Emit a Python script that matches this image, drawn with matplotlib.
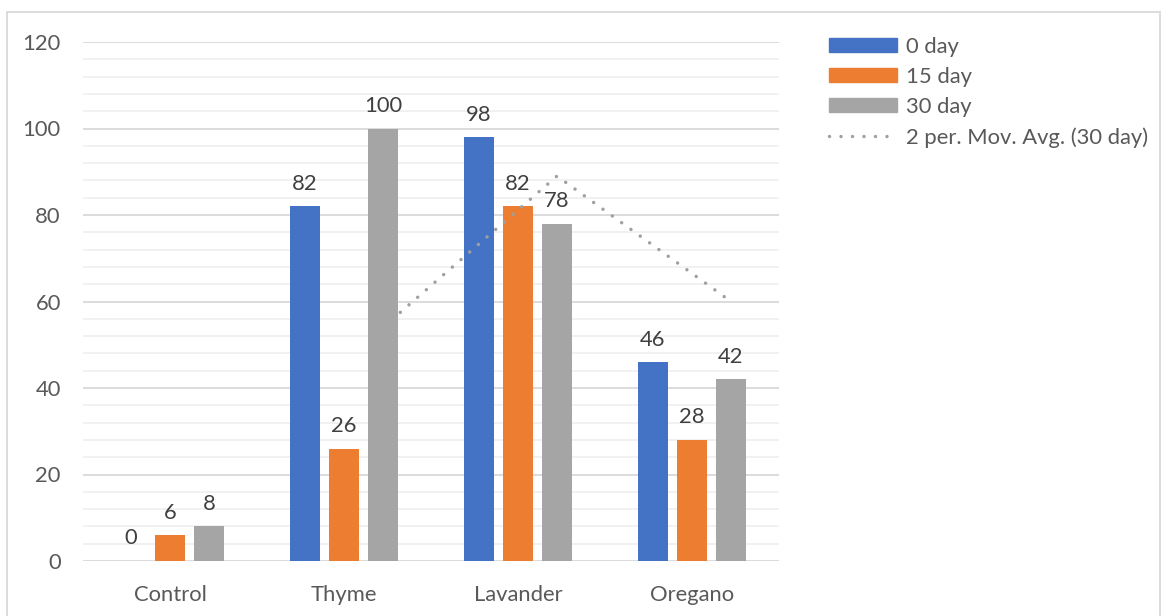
import numpy as np
import pandas as pd
import matplotlib

matplotlib.use("Agg")
import matplotlib.pyplot as plt
from matplotlib.lines import Line2D
from matplotlib.patches import Patch, Rectangle

categories = ["Control", "Thyme", "Lavander", "Oregano"]
day0 = [0, 82, 98, 46]
day15 = [6, 26, 82, 28]
day30 = [8, 100, 78, 42]
series_names = ["0 day", "15 day", "30 day"]
colors = ["#4472c4", "#ed7d31", "#a5a5a5"]

plt.rcParams["font.family"] = ["Lato", "DejaVu Sans"]
FS = 15.8

W, H = 1161, 616
fig = plt.figure(figsize=(W / 100, H / 100), dpi=100)
ax = fig.add_axes([83 / W, (H - 561) / H, (779 - 83) / W, (561 - 42) / H])

x = np.arange(len(categories))
width = 0.172
step = 0.224
values = [day0, day15, day30]

# two-period moving average of the 30 day series, at the 30 day bar positions
mov_avg = pd.Series(day30, dtype=float).rolling(2).mean()

for k, (vals, name, col) in enumerate(zip(values, series_names, colors)):
    pos = x + (k - 1) * step
    ax.bar(pos, vals, width=width, color=col, zorder=3 if k == 2 else 2)
    for px, v in zip(pos, vals):
        ax.annotate(str(v), (px, v), xytext=(0, 9), textcoords="offset points",
                    ha="center", va="bottom", fontsize=FS, color="#404040")

dots = (0, (0.01, 3.3))
ax.plot(x + step, mov_avg, color="#a0a0a0", lw=2.5, linestyle=dots,
        dash_capstyle="round", zorder=2.5)

ax.set_xlim(-0.5, len(categories) - 0.5)
ax.set_ylim(0, 120)
ax.set_yticks(np.arange(0, 121, 20))
ax.set_yticks(np.arange(0, 121, 4), minor=True)
ax.grid(axis="y", which="major", color="#d9d9d9", lw=1.3, zorder=0)
ax.grid(axis="y", which="minor", color="#f0f0f0", lw=1.3, zorder=0)
ax.set_axisbelow(True)
ax.set_xticks(x)
ax.set_xticklabels(categories)
ax.tick_params(axis="both", which="both", length=0, labelsize=FS, colors="#595959")
ax.tick_params(axis="y", pad=16)
ax.tick_params(axis="x", pad=17)
for s in ax.spines.values():
    s.set_visible(False)

handles = [Patch(color=c) for c in colors]
handles.append(Line2D([], [], color="#a0a0a0", lw=2.5, linestyle=dots,
                      dash_capstyle="round"))
labels = series_names + ["2 per. Mov. Avg. (30 day)"]
leg = fig.legend(handles, labels, loc="upper left", bbox_to_anchor=(820 / W, 1 - 28 / H),
                 frameon=False, fontsize=FS, handlelength=3.1, handleheight=0.6,
                 handletextpad=0.4, labelspacing=0.46, borderaxespad=0)
for t in leg.get_texts():
    t.set_color("#595959")

fig.patches.append(Rectangle((7 / W, -0.05), (1160 - 7) / W, 1.05 - 12 / H,
                             transform=fig.transFigure, fill=False,
                             edgecolor="#d9d9d9", lw=1.3))

fig.savefig("out.png", dpi=100)
